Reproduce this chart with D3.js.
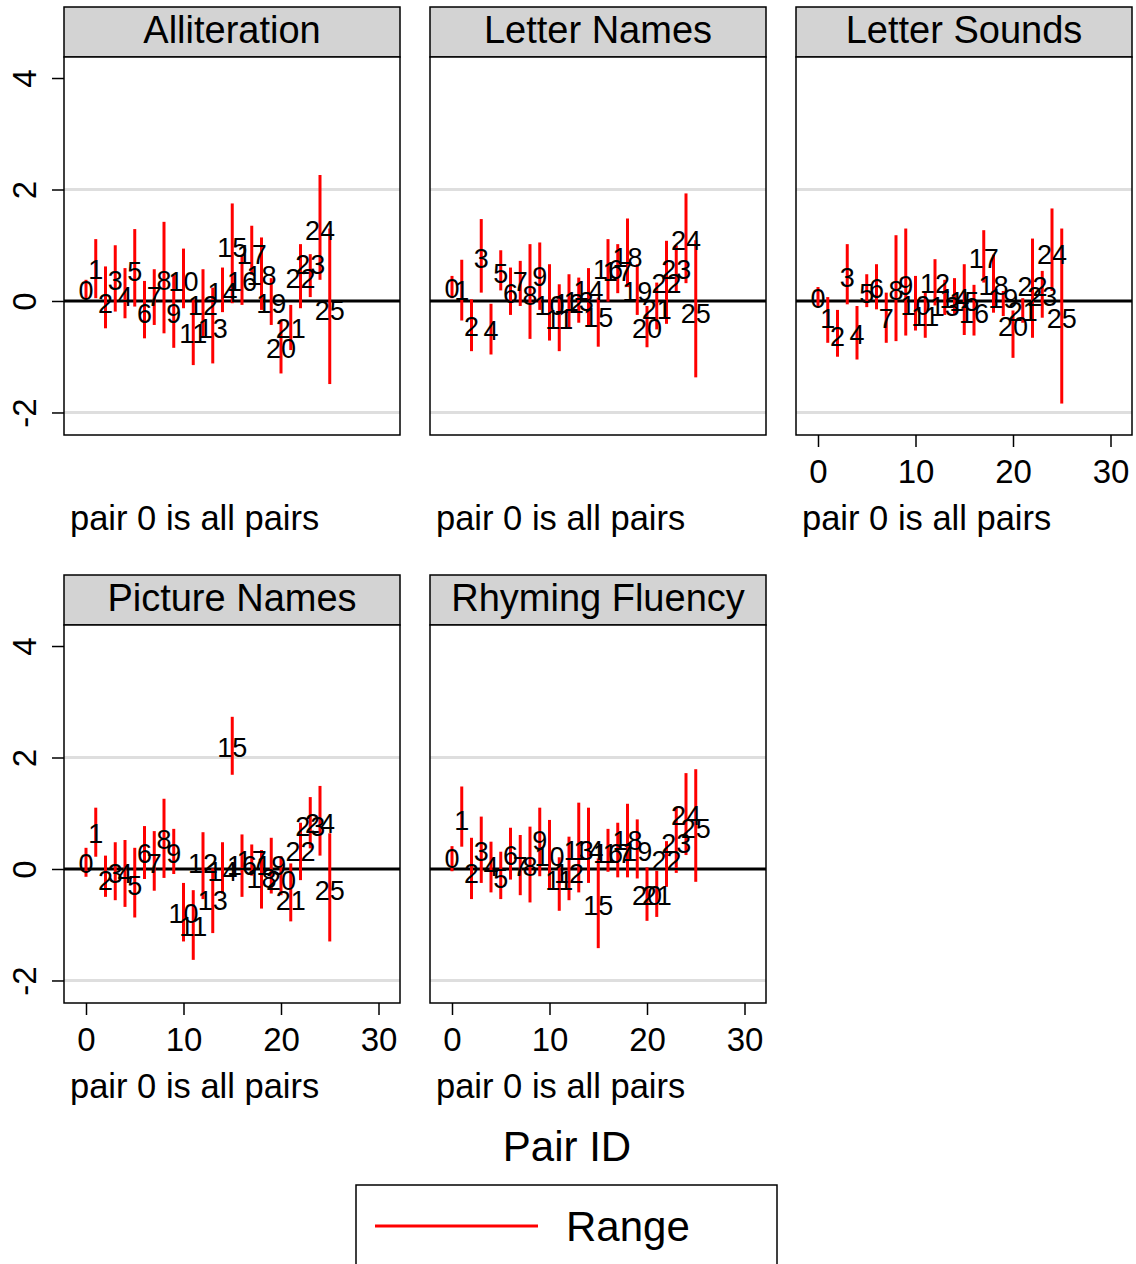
<!DOCTYPE html>
<html>
<head>
<meta charset="utf-8">
<script src="https://cdn.jsdelivr.net/npm/d3@7"></script>
<style>
  body { margin: 0; background: #fff; }
  text { font-family: "Liberation Sans", Arial, Helvetica, sans-serif; fill: #000; }
</style>
</head>
<body>
<div id="chart-area"></div>
<script>
// pair ids on the x axis
let pairIds = [0, 1, 2, 3, 4, 5, 6, 7, 8, 9, 10, 11, 12, 13, 14, 15, 16, 17, 18, 19, 20, 21, 22, 23, 24, 25];
let panelNames = ['Alliteration', 'Letter Names', 'Letter Sounds', 'Picture Names', 'Rhyming Fluency'];
let yTicks = [-2, 0, 2, 4];
let xTicks = [0, 10, 20, 30];

// Alliteration
let allitLo = [0.03, 0.05, -0.49, -0.19, -0.31, -0.10, -0.67, -0.43, -0.58, -0.84, -0.13, -1.15, -0.64, -1.12, -0.20, -0.04, -0.07, 0.47, -0.16, -0.43, -1.30, -0.88, -0.13, 0.07, 0.38, -1.49];
let allitHi = [0.38, 1.11, 0.62, 1.00, 0.59, 1.29, 0.36, 0.57, 1.42, 0.47, 0.94, 0.03, 0.57, 0.24, 0.60, 1.75, 0.83, 1.35, 1.14, 0.41, -0.34, -0.07, 1.02, 0.84, 2.26, 1.30];
let allitEst = [0.20, 0.56, -0.04, 0.38, 0.08, 0.53, -0.22, 0.08, 0.38, -0.22, 0.35, -0.58, -0.07, -0.49, 0.15, 0.97, 0.35, 0.83, 0.47, -0.04, -0.85, -0.49, 0.41, 0.65, 1.27, -0.16];

// Letter Names
let namesLo = [0.05, -0.35, -0.90, 0.15, -0.96, 0.19, -0.25, -0.09, -0.68, -0.16, -0.71, -0.90, -0.47, -0.39, -0.46, -0.82, -0.01, 0.14, 0.25, -0.25, -0.83, -0.51, -0.41, 0.15, 0.32, -1.37];
let namesHi = [0.45, 0.74, 0.03, 1.47, -0.05, 0.91, 0.60, 0.72, 1.02, 1.05, 0.66, 0.30, 0.48, 0.42, 0.59, 0.06, 1.11, 1.02, 1.48, 0.66, -0.09, 0.33, 1.08, 1.00, 1.93, 1.09];
let namesEst = [0.23, 0.20, -0.46, 0.77, -0.52, 0.50, 0.14, 0.35, 0.11, 0.44, -0.07, -0.33, -0.04, -0.01, 0.20, -0.29, 0.56, 0.53, 0.78, 0.17, -0.49, -0.15, 0.32, 0.56, 1.09, -0.22];

// Letter Sounds
let soundsLo = [-0.11, -0.75, -1.00, -0.06, -1.05, -0.11, -0.15, -0.75, -0.72, -0.62, -0.53, -0.66, -0.08, -0.25, -0.23, -0.61, -0.62, 0.33, -0.21, -0.27, -1.02, -0.39, -0.66, -0.30, 0.18, -1.84];
let soundsHi = [0.25, 0.07, -0.16, 1.02, -0.09, 0.48, 0.66, 0.15, 1.18, 1.30, 0.45, 0.17, 0.75, 0.38, 0.41, 0.66, 0.29, 1.27, 0.83, 0.18, -0.17, 0.05, 1.12, 0.54, 1.66, 1.30];
let soundsEst = [0.05, -0.31, -0.64, 0.42, -0.59, 0.14, 0.23, -0.31, 0.20, 0.29, -0.07, -0.28, 0.32, -0.10, 0.05, 0.00, -0.22, 0.77, 0.29, 0.05, -0.46, -0.19, 0.26, 0.08, 0.83, -0.31];

// Picture Names
let pictLo = [-0.14, 0.22, -0.50, -0.56, -0.68, -0.87, -0.18, -0.39, -0.16, -0.09, -1.30, -1.63, -0.54, -1.15, -0.44, 1.69, -0.50, -0.12, -0.71, -0.44, -0.47, -0.94, -0.20, 0.37, 0.24, -1.30];
let pictHi = [0.38, 1.10, 0.24, 0.48, 0.52, 0.38, 0.77, 0.68, 1.26, 0.72, -0.25, -0.38, 0.66, 0.01, 0.48, 2.73, 0.62, 0.44, 0.34, 0.56, 0.23, 0.10, 0.83, 1.29, 1.49, 0.64];
let pictEst = [0.10, 0.64, -0.20, -0.08, -0.08, -0.29, 0.28, 0.10, 0.53, 0.28, -0.80, -1.03, 0.10, -0.56, -0.05, 2.18, 0.07, 0.16, -0.17, 0.07, -0.20, -0.56, 0.31, 0.76, 0.82, -0.38];

// Rhyming Fluency
let rhymeLo = [-0.04, 0.40, -0.54, -0.25, -0.42, -0.54, -0.19, -0.47, -0.60, -0.13, -0.36, -0.75, -0.56, -0.42, -0.25, -1.42, -0.05, -0.15, -0.15, -0.17, -0.93, -0.86, -0.32, -0.07, 0.25, -0.23];
let rhymeHi = [0.41, 1.48, 0.56, 0.94, 0.49, 0.31, 0.74, 0.61, 0.76, 1.10, 0.88, 0.21, 0.58, 1.19, 1.10, 0.19, 0.72, 0.83, 1.17, 0.89, 0.03, -0.03, 0.50, 1.10, 1.72, 1.79];
let rhymeEst = [0.19, 0.88, -0.08, 0.31, 0.04, -0.17, 0.25, 0.04, 0.04, 0.52, 0.22, -0.20, -0.08, 0.34, 0.34, -0.65, 0.28, 0.28, 0.52, 0.31, -0.47, -0.47, 0.16, 0.46, 0.97, 0.73];

let seriesLo = [allitLo, namesLo, soundsLo, pictLo, rhymeLo];
let seriesHi = [allitHi, namesHi, soundsHi, pictHi, rhymeHi];
let seriesEst = [allitEst, namesEst, soundsEst, pictEst, rhymeEst];

let W = 1136, H = 1264;
let panelW = 336, plotH = 378, stripH = 50;
let colX = [64, 430, 796];
let rowY = [7, 575];

let svg = d3.select('#chart-area').append('svg')
  .attr('width', W)
  .attr('height', H);

let x = d3.scaleLinear()
  .domain([-22 / 9.75, (panelW - 22) / 9.75])
  .range([0, panelW]);

let y = d3.scaleLinear()
  .domain([-2.404, 4.377])
  .range([plotH, 0]);

panelNames.forEach((name, p) => {
  let col = p % 3, row = Math.floor(p / 3);
  let g = svg.append('g')
    .attr('transform', `translate(${colX[col]}, ${rowY[row]})`);

  // strip header
  g.append('rect')
    .attr('x', 0).attr('y', 0)
    .attr('width', panelW).attr('height', stripH)
    .attr('fill', '#d3d3d3')
    .attr('stroke', '#000')
    .attr('stroke-width', 1.5);
  g.append('text')
    .attr('x', panelW / 2)
    .attr('y', 36)
    .attr('text-anchor', 'middle')
    .style('font-size', '38px')
    .text(name);

  let plot = g.append('g')
    .attr('transform', `translate(0, ${stripH})`);

  plot.append('rect')
    .attr('width', panelW).attr('height', plotH)
    .attr('fill', '#fff');

  // light grid at 2 and -2
  plot.selectAll('.grid')
    .data([-2, 2])
    .enter()
    .append('line')
    .attr('x1', 0).attr('x2', panelW)
    .attr('y1', d => y(d)).attr('y2', d => y(d))
    .attr('stroke', '#dedede')
    .attr('stroke-width', 3);

  // zero line
  plot.append('line')
    .attr('x1', 0).attr('x2', panelW)
    .attr('y1', y(0)).attr('y2', y(0))
    .attr('stroke', '#000')
    .attr('stroke-width', 3);

  let data = pairIds.map((id, i) => ({
    id: id,
    lo: seriesLo[p][i],
    hi: seriesHi[p][i],
    est: seriesEst[p][i]
  }));

  plot.selectAll('.bar')
    .data(data)
    .enter()
    .append('line')
    .attr('x1', d => x(d.id)).attr('x2', d => x(d.id))
    .attr('y1', d => y(d.lo)).attr('y2', d => y(d.hi))
    .attr('stroke', '#ff0000')
    .attr('stroke-width', 3);

  plot.selectAll('.lab')
    .data(data)
    .enter()
    .append('text')
    .attr('x', d => x(d.id))
    .attr('y', d => y(d.est))
    .attr('dy', '0.36em')
    .attr('text-anchor', 'middle')
    .style('font-size', '27px')
    .text(d => d.id);

  plot.append('rect')
    .attr('width', panelW).attr('height', plotH)
    .attr('fill', 'none')
    .attr('stroke', '#000')
    .attr('stroke-width', 1.5);

  // y axis only on the left column
  if (col === 0) {
    let leftAxis = d3.axisLeft(y)
      .tickValues(yTicks)
      .tickSize(12)
      .tickFormat(d => String(d));
    let ax = plot.append('g').call(leftAxis);
    ax.select('.domain').remove();
    ax.selectAll('line').attr('stroke-width', 1.5);
    ax.selectAll('text')
      .attr('x', 0)
      .attr('dy', 0)
      .attr('text-anchor', 'middle')
      .attr('transform', 'translate(-28, 0) rotate(-90)')
      .style('font-size', '33px')
      .style('font-family', '"Liberation Sans", Arial, sans-serif');
  }

  // x axis on panels with nothing below them
  if (row === 1 || col === 2) {
    let bottomAxis = d3.axisBottom(x)
      .tickValues(xTicks)
      .tickSize(12);
    let ax = plot.append('g')
      .attr('transform', `translate(0, ${plotH})`)
      .call(bottomAxis);
    ax.select('.domain').remove();
    ax.selectAll('line').attr('stroke-width', 1.5);
    ax.selectAll('text')
      .attr('y', 25)
      .style('font-size', '33px')
      .style('font-family', '"Liberation Sans", Arial, sans-serif');
  }

  g.append('text')
    .attr('x', 6)
    .attr('y', stripH + plotH + 95)
    .style('font-size', '34.5px')
    .text('pair 0 is all pairs');
});

// x title
svg.append('text')
  .attr('x', 567)
  .attr('y', 1161)
  .attr('text-anchor', 'middle')
  .style('font-size', '42px')
  .text('Pair ID');

// legend
let legend = svg.append('g');
legend.append('rect')
  .attr('x', 356).attr('y', 1185)
  .attr('width', 421).attr('height', 120)
  .attr('fill', '#fff')
  .attr('stroke', '#000')
  .attr('stroke-width', 1.5);
legend.append('line')
  .attr('x1', 375).attr('x2', 538)
  .attr('y1', 1226).attr('y2', 1226)
  .attr('stroke', '#ff0000')
  .attr('stroke-width', 3);
legend.append('text')
  .attr('x', 566)
  .attr('y', 1241)
  .style('font-size', '42px')
  .text('Range');
</script>
</body>
</html>
